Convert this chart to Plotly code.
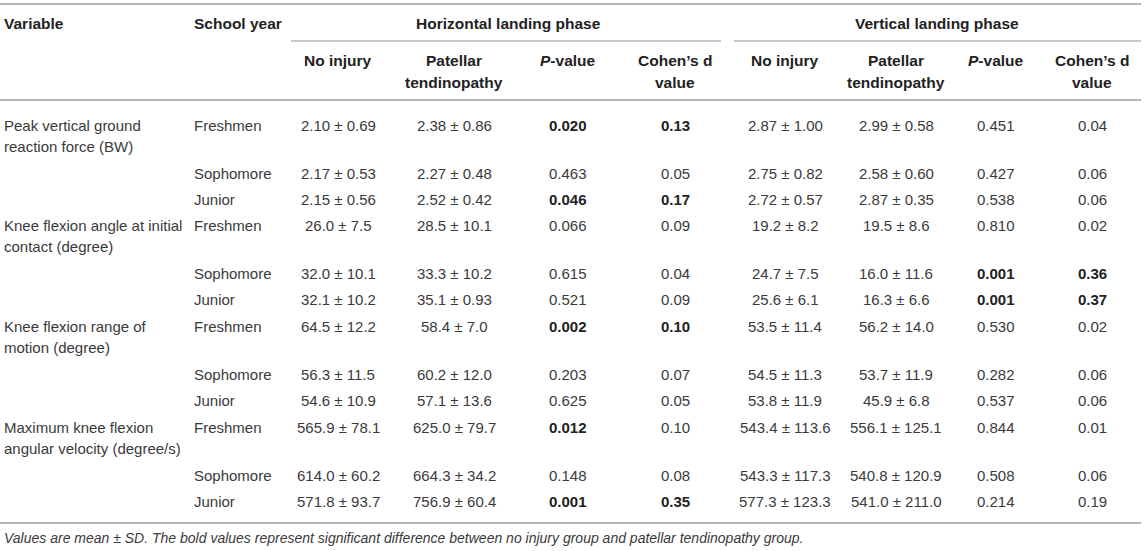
import plotly.graph_objects as go

# ---------------- data ----------------
variables = [
    ["Peak vertical ground", "reaction force (BW)"],
    ["Knee flexion angle at initial", "contact (degree)"],
    ["Knee flexion range of", "motion (degree)"],
    ["Maximum knee flexion", "angular velocity (degree/s)"],
]
school_years = ["Freshmen", "Sophomore", "Junior"]

h_no_injury = ["2.10 ± 0.69", "2.17 ± 0.53", "2.15 ± 0.56",
               "26.0 ± 7.5", "32.0 ± 10.1", "32.1 ± 10.2",
               "64.5 ± 12.2", "56.3 ± 11.5", "54.6 ± 10.9",
               "565.9 ± 78.1", "614.0 ± 60.2", "571.8 ± 93.7"]
h_patellar = ["2.38 ± 0.86", "2.27 ± 0.48", "2.52 ± 0.42",
              "28.5 ± 10.1", "33.3 ± 10.2", "35.1 ± 0.93",
              "58.4 ± 7.0", "60.2 ± 12.0", "57.1 ± 13.6",
              "625.0 ± 79.7", "664.3 ± 34.2", "756.9 ± 60.4"]
h_p_value = ["0.020", "0.463", "0.046", "0.066", "0.615", "0.521",
             "0.002", "0.203", "0.625", "0.012", "0.148", "0.001"]
h_cohen_d = ["0.13", "0.05", "0.17", "0.09", "0.04", "0.09",
             "0.10", "0.07", "0.05", "0.10", "0.08", "0.35"]
h_p_bold = [1, 0, 1, 0, 0, 0, 1, 0, 0, 1, 0, 1]
h_d_bold = [1, 0, 1, 0, 0, 0, 1, 0, 0, 0, 0, 1]

v_no_injury = ["2.87 ± 1.00", "2.75 ± 0.82", "2.72 ± 0.57",
               "19.2 ± 8.2", "24.7 ± 7.5", "25.6 ± 6.1",
               "53.5 ± 11.4", "54.5 ± 11.3", "53.8 ± 11.9",
               "543.4 ± 113.6", "543.3 ± 117.3", "577.3 ± 123.3"]
v_patellar = ["2.99 ± 0.58", "2.58 ± 0.60", "2.87 ± 0.35",
              "19.5 ± 8.6", "16.0 ± 11.6", "16.3 ± 6.6",
              "56.2 ± 14.0", "53.7 ± 11.9", "45.9 ± 6.8",
              "556.1 ± 125.1", "540.8 ± 120.9", "541.0 ± 211.0"]
v_p_value = ["0.451", "0.427", "0.538", "0.810", "0.001", "0.001",
             "0.530", "0.282", "0.537", "0.844", "0.508", "0.214"]
v_cohen_d = ["0.04", "0.06", "0.06", "0.02", "0.36", "0.37",
             "0.02", "0.06", "0.06", "0.01", "0.06", "0.19"]
v_p_bold = [0, 0, 0, 0, 1, 1, 0, 0, 0, 0, 0, 0]
v_d_bold = [0, 0, 0, 0, 1, 1, 0, 0, 0, 0, 0, 0]

phase_headers = ["Horizontal landing phase", "Vertical landing phase"]
sub_headers = [["No injury"], ["Patellar", "tendinopathy"], ["<i>P</i>-value"], ["Cohen’s d", "value"]]
footnote = ("Values are mean ± SD. The bold values represent significant difference "
            "between no injury group and patellar tendinopathy group.")

# ---------------- layout ----------------
W, H = 1145, 551
FONT = "Liberation Sans, Arial, Helvetica, sans-serif"
FS = 15
FS_HDR = 15.5
TXT = "#3a3a3a"
HDR = "#222222"
LINE = "#b4b4b4"

x_var, x_year = 3, 193
h_cols = [338, 454, 568, 675]
v_cols = [785, 896, 996, 1092]
phase_centers = [508, 937]
phase_spans = [(291, 725), (734, 1145)]

y_top_line, y_hdr1, y_sub_line, y_hdr2, y_hdr3, y_hdr_line = 4, 23, 41, 60, 82, 100
y_first, group_step, line2_dy, soph_dy, jun_dy = 125, 100.7, 21, 48, 74
y_bottom_line, y_foot = 523, 538

fig = go.Figure()
ann = []


def add(text, x, y, xanchor="center", bold=False, color=TXT, size=FS, italic=False):
    t = text
    if bold:
        t = "<b>" + t + "</b>"
    if italic:
        t = "<i>" + t + "</i>"
    ann.append(dict(text=t, x=x, y=y, xref="x", yref="y", xanchor=xanchor, yanchor="middle",
                    showarrow=False, borderpad=0,
                    font=dict(family=FONT, size=size, color=color)))


# headers
add("Variable", x_var, y_hdr1, "left", True, HDR, FS_HDR)
add("School year", x_year, y_hdr1, "left", True, HDR, FS_HDR)
for c, t in zip(phase_centers, phase_headers):
    add(t, c, y_hdr1, bold=True, color=HDR, size=FS_HDR)
for cols in (h_cols, v_cols):
    for c, lines in zip(cols, sub_headers):
        ys = [y_hdr2] if len(lines) == 1 else [y_hdr2, y_hdr3]
        for ln, yy in zip(lines, ys):
            add(ln, c, yy, bold=True, color=HDR, size=FS_HDR)

# body
row_offsets = [0, soph_dy, jun_dy]
for g, var in enumerate(variables):
    yf = y_first + g * group_step
    add(var[0], x_var, yf, "left")
    add(var[1], x_var, yf + line2_dy, "left")
    for k, yr in enumerate(school_years):
        i = g * 3 + k
        y = yf + row_offsets[k]
        add(yr, x_year, y, "left")
        add(h_no_injury[i], h_cols[0], y)
        add(h_patellar[i], h_cols[1], y)
        add(h_p_value[i], h_cols[2], y, bold=bool(h_p_bold[i]), color=HDR if h_p_bold[i] else TXT)
        add(h_cohen_d[i], h_cols[3], y, bold=bool(h_d_bold[i]), color=HDR if h_d_bold[i] else TXT)
        add(v_no_injury[i], v_cols[0], y)
        add(v_patellar[i], v_cols[1], y)
        add(v_p_value[i], v_cols[2], y, bold=bool(v_p_bold[i]), color=HDR if v_p_bold[i] else TXT)
        add(v_cohen_d[i], v_cols[3], y, bold=bool(v_d_bold[i]), color=HDR if v_d_bold[i] else TXT)

add(footnote, x_var, y_foot, "left", italic=True, size=14)

shapes = []
for y in (y_top_line, y_hdr_line, y_bottom_line):
    shapes.append(dict(type="line", xref="x", yref="y", x0=0, x1=W - 4, y0=y, y1=y,
                       line=dict(color=LINE, width=2)))
for x0, x1 in phase_spans:
    shapes.append(dict(type="line", xref="x", yref="y", x0=x0, x1=x1 - 4, y0=y_sub_line, y1=y_sub_line,
                       line=dict(color=LINE, width=1.5)))

fig.update_layout(
    width=W, height=H,
    margin=dict(l=0, r=0, t=0, b=0),
    paper_bgcolor="white", plot_bgcolor="white",
    xaxis=dict(range=[0, W], visible=False, fixedrange=True),
    yaxis=dict(range=[H, 0], visible=False, fixedrange=True),
    annotations=ann, shapes=shapes, showlegend=False,
)
fig.write_html("out.html", config={"displayModeBar": False},
               post_script="document.body.style.margin='0';document.body.style.overflow='hidden';")
